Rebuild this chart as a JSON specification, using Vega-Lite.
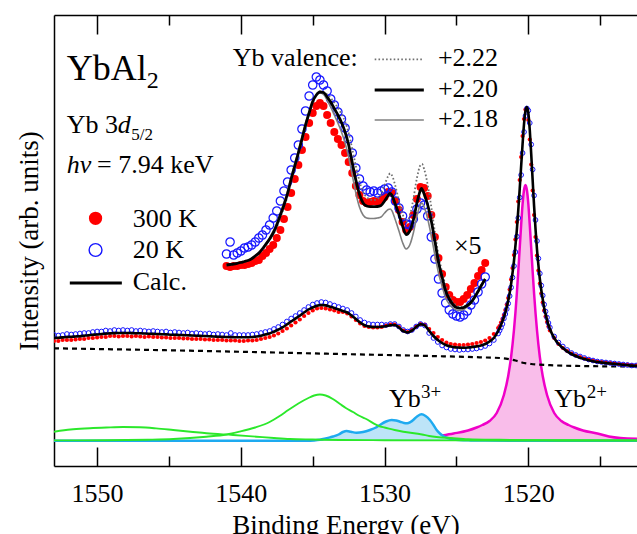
{
"$schema": "https://vega.github.io/schema/vega-lite/v6.json",
"width": 583, "height": 451,
"autosize": {"type": "none"},
"padding": {"left": 54, "top": 15, "right": 0, "bottom": 68},
"background": "white",
"config": {"view": {"stroke": null}, "font": "'Liberation Serif', 'Times New Roman', 'DejaVu Serif', serif"},
"datasets": {
"calc": [{"E":1553.0,"I":103},{"E":1552.7,"I":103.3},{"E":1552.4,"I":103.6},{"E":1552.1,"I":104},{"E":1551.8,"I":104.2},{"E":1551.5,"I":104.5},{"E":1551.2,"I":104.8},{"E":1550.9,"I":105.3},{"E":1550.6,"I":105.8},{"E":1550.3,"I":106.2},{"E":1550.0,"I":106.5},{"E":1549.7,"I":107},{"E":1549.4,"I":107.4},{"E":1549.1,"I":107.6},{"E":1548.8,"I":107.9},{"E":1548.5,"I":108},{"E":1548.2,"I":108},{"E":1547.9,"I":108},{"E":1547.6,"I":107.9},{"E":1547.3,"I":107.8},{"E":1547.0,"I":107.7},{"E":1546.7,"I":107.5},{"E":1546.4,"I":107.3},{"E":1546.1,"I":107.1},{"E":1545.8,"I":107},{"E":1545.5,"I":106.8},{"E":1545.2,"I":106.6},{"E":1544.9,"I":106.3},{"E":1544.6,"I":106.2},{"E":1544.3,"I":106},{"E":1544.0,"I":105.9},{"E":1543.7,"I":105.7},{"E":1543.4,"I":105.5},{"E":1543.1,"I":105.3},{"E":1542.8,"I":105.1},{"E":1542.5,"I":105},{"E":1542.2,"I":104.8},{"E":1541.9,"I":104.5},{"E":1541.6,"I":104.3},{"E":1541.3,"I":104.1},{"E":1541.0,"I":104},{"E":1540.7,"I":103.9},{"E":1540.4,"I":103.8},{"E":1540.1,"I":103.7},{"E":1539.8,"I":103.7},{"E":1539.5,"I":103.8},{"E":1539.2,"I":104},{"E":1538.9,"I":104.5},{"E":1538.6,"I":105.3},{"E":1538.3,"I":106.5},{"E":1538.0,"I":107.5},{"E":1537.7,"I":109.3},{"E":1537.4,"I":111.3},{"E":1537.1,"I":113.7},{"E":1536.8,"I":116.5},{"E":1536.5,"I":119.5},{"E":1536.2,"I":122.4},{"E":1535.9,"I":125.3},{"E":1535.6,"I":128.5},{"E":1535.3,"I":131.5},{"E":1535.0,"I":133.5},{"E":1534.7,"I":135.3},{"E":1534.4,"I":136},{"E":1534.1,"I":135.6},{"E":1533.8,"I":134.3},{"E":1533.5,"I":133},{"E":1533.2,"I":131.5},{"E":1532.9,"I":130},{"E":1532.6,"I":128.5},{"E":1532.3,"I":125.5},{"E":1532.0,"I":122},{"E":1531.7,"I":118.5},{"E":1531.4,"I":115.8},{"E":1531.1,"I":114.5},{"E":1530.8,"I":114},{"E":1530.5,"I":114},{"E":1530.2,"I":114.2},{"E":1529.9,"I":114.8},{"E":1529.6,"I":115.8},{"E":1529.3,"I":116},{"E":1529.0,"I":113.5},{"E":1528.7,"I":109.8},{"E":1528.4,"I":108.5},{"E":1528.1,"I":110.3},{"E":1527.8,"I":114},{"E":1527.5,"I":116.8},{"E":1527.2,"I":115.5},{"E":1526.9,"I":110},{"E":1526.6,"I":105},{"E":1526.3,"I":101},{"E":1526.0,"I":98},{"E":1525.7,"I":95.7},{"E":1525.4,"I":94.4},{"E":1525.1,"I":93.6},{"E":1524.8,"I":93.4},{"E":1524.5,"I":93.3},{"E":1524.2,"I":93.5},{"E":1523.9,"I":94},{"E":1523.6,"I":94.6},{"E":1523.3,"I":95.5},{"E":1523.0,"I":97},{"E":1522.7,"I":99.5},{"E":1522.4,"I":103},{"E":1522.1,"I":110},{"E":1522.0,"I":113},{"E":1521.9,"I":116},{"E":1521.8,"I":120},{"E":1521.7,"I":124},{"E":1521.6,"I":128.5},{"E":1521.5,"I":134},{"E":1521.4,"I":140.5},{"E":1521.3,"I":148},{"E":1521.2,"I":157},{"E":1521.1,"I":168},{"E":1521.0,"I":180},{"E":1520.9,"I":195},{"E":1520.8,"I":211},{"E":1520.7,"I":231},{"E":1520.6,"I":252},{"E":1520.5,"I":275},{"E":1520.4,"I":297},{"E":1520.3,"I":317},{"E":1520.2,"I":330},{"E":1520.1,"I":334},{"E":1520.0,"I":328},{"E":1519.9,"I":311},{"E":1519.8,"I":287},{"E":1519.7,"I":261},{"E":1519.6,"I":235},{"E":1519.5,"I":212},{"E":1519.4,"I":192},{"E":1519.3,"I":176},{"E":1519.2,"I":162},{"E":1519.1,"I":151},{"E":1519.0,"I":142},{"E":1518.9,"I":133},{"E":1518.8,"I":127},{"E":1518.7,"I":121},{"E":1518.6,"I":116},{"E":1518.5,"I":112},{"E":1518.2,"I":103},{"E":1517.9,"I":97},{"E":1517.6,"I":93},{"E":1517.3,"I":89.5},{"E":1517.0,"I":87},{"E":1516.7,"I":85},{"E":1516.4,"I":83.3},{"E":1516.1,"I":82},{"E":1515.8,"I":80.8},{"E":1515.5,"I":79.8},{"E":1515.2,"I":79},{"E":1514.9,"I":78.4},{"E":1514.6,"I":77.9},{"E":1514.3,"I":77.5},{"E":1514.0,"I":77.1},{"E":1513.7,"I":76.7},{"E":1513.4,"I":76.2},{"E":1513.1,"I":75.8},{"E":1512.8,"I":75.4},{"E":1512.5,"I":75.1},{"E":1512.2,"I":74.9}],
"red": [{"E":1553.0,"I":100},{"E":1552.7,"I":100},{"E":1552.4,"I":101},{"E":1552.1,"I":101},{"E":1551.8,"I":101},{"E":1551.5,"I":101.5},{"E":1551.2,"I":102},{"E":1550.9,"I":102},{"E":1550.6,"I":103},{"E":1550.3,"I":103},{"E":1550.0,"I":103.5},{"E":1549.7,"I":104},{"E":1549.4,"I":104},{"E":1549.1,"I":105},{"E":1548.8,"I":105},{"E":1548.5,"I":104.5},{"E":1548.2,"I":105},{"E":1547.9,"I":105},{"E":1547.6,"I":104.5},{"E":1547.3,"I":105},{"E":1547.0,"I":104.5},{"E":1546.7,"I":104},{"E":1546.4,"I":104.5},{"E":1546.1,"I":104},{"E":1545.8,"I":104},{"E":1545.5,"I":103.5},{"E":1545.2,"I":103.5},{"E":1544.9,"I":103},{"E":1544.6,"I":103},{"E":1544.3,"I":103},{"E":1544.0,"I":102.5},{"E":1543.7,"I":102.5},{"E":1543.4,"I":102},{"E":1543.1,"I":102},{"E":1542.8,"I":102},{"E":1542.5,"I":101.5},{"E":1542.2,"I":101.5},{"E":1541.9,"I":101},{"E":1541.6,"I":101},{"E":1541.3,"I":101},{"E":1541.0,"I":100.5},{"E":1540.7,"I":100.5},{"E":1540.4,"I":100.5},{"E":1540.1,"I":100},{"E":1539.8,"I":100},{"E":1539.5,"I":100.5},{"E":1539.2,"I":100.5},{"E":1538.9,"I":101},{"E":1538.6,"I":102},{"E":1538.3,"I":103},{"E":1538.0,"I":104},{"E":1537.7,"I":105.5},{"E":1537.4,"I":107.5},{"E":1537.1,"I":110},{"E":1536.8,"I":112.5},{"E":1536.5,"I":115.5},{"E":1536.2,"I":118.5},{"E":1535.9,"I":121.5},{"E":1535.6,"I":125},{"E":1535.3,"I":128},{"E":1535.0,"I":130.5},{"E":1534.7,"I":132.5},{"E":1534.4,"I":133},{"E":1534.1,"I":132.5},{"E":1533.8,"I":131.5},{"E":1533.5,"I":130.5},{"E":1533.2,"I":129},{"E":1532.9,"I":129},{"E":1532.6,"I":127.5},{"E":1532.3,"I":124.5},{"E":1532.0,"I":121},{"E":1531.7,"I":117.5},{"E":1531.4,"I":115},{"E":1531.1,"I":114},{"E":1530.8,"I":113.5},{"E":1530.5,"I":113.5},{"E":1530.2,"I":114},{"E":1529.9,"I":115.5},{"E":1529.6,"I":116.5},{"E":1529.3,"I":116.5},{"E":1529.0,"I":114},{"E":1528.7,"I":110.5},{"E":1528.4,"I":109},{"E":1528.1,"I":111},{"E":1527.8,"I":114.5},{"E":1527.5,"I":117},{"E":1527.2,"I":116.5},{"E":1526.9,"I":112},{"E":1526.6,"I":108},{"E":1526.3,"I":104},{"E":1526.0,"I":101},{"E":1525.7,"I":98.5},{"E":1525.4,"I":97},{"E":1525.1,"I":96.5},{"E":1524.8,"I":96},{"E":1524.5,"I":96},{"E":1524.2,"I":96.5},{"E":1523.9,"I":97},{"E":1523.6,"I":98},{"E":1523.3,"I":99},{"E":1523.0,"I":100.5},{"E":1522.7,"I":103},{"E":1522.4,"I":107},{"E":1522.1,"I":113},{"E":1522.0,"I":115},{"E":1521.9,"I":118.5},{"E":1521.8,"I":122},{"E":1521.7,"I":126},{"E":1521.6,"I":131},{"E":1521.5,"I":136.5},{"E":1521.4,"I":143},{"E":1521.3,"I":151.5},{"E":1521.2,"I":161.5},{"E":1521.1,"I":173},{"E":1521.0,"I":186},{"E":1520.9,"I":201.5},{"E":1520.8,"I":219},{"E":1520.7,"I":239.5},{"E":1520.6,"I":261},{"E":1520.5,"I":284},{"E":1520.4,"I":305},{"E":1520.3,"I":322},{"E":1520.2,"I":331.5},{"E":1520.1,"I":331.5},{"E":1520.0,"I":321},{"E":1519.9,"I":301.5},{"E":1519.8,"I":276.5},{"E":1519.7,"I":250.5},{"E":1519.6,"I":226},{"E":1519.5,"I":204},{"E":1519.4,"I":185.5},{"E":1519.3,"I":170.5},{"E":1519.2,"I":157.5},{"E":1519.1,"I":147.5},{"E":1519.0,"I":138.5},{"E":1518.9,"I":130.5},{"E":1518.8,"I":124.5},{"E":1518.7,"I":119},{"E":1518.6,"I":114.5},{"E":1518.5,"I":110.5},{"E":1518.2,"I":103},{"E":1517.9,"I":97},{"E":1517.6,"I":93},{"E":1517.3,"I":90},{"E":1517.0,"I":87.5},{"E":1516.7,"I":85.5},{"E":1516.4,"I":84},{"E":1516.1,"I":82.5},{"E":1515.8,"I":81.5},{"E":1515.5,"I":80.5},{"E":1515.2,"I":79.5},{"E":1514.9,"I":79},{"E":1514.6,"I":78.5},{"E":1514.3,"I":78},{"E":1514.0,"I":77.5},{"E":1513.7,"I":77},{"E":1513.4,"I":76.5},{"E":1513.1,"I":76.5},{"E":1512.8,"I":76},{"E":1512.5,"I":75.5}],
"blue": [{"E":1553.0,"I":106},{"E":1552.7,"I":105.5},{"E":1552.4,"I":106},{"E":1552.1,"I":107},{"E":1551.8,"I":106.5},{"E":1551.5,"I":107},{"E":1551.2,"I":107.5},{"E":1550.9,"I":108},{"E":1550.6,"I":108},{"E":1550.3,"I":109},{"E":1550.0,"I":109.5},{"E":1549.7,"I":109.5},{"E":1549.4,"I":110.5},{"E":1549.1,"I":110},{"E":1548.8,"I":111},{"E":1548.5,"I":110.5},{"E":1548.2,"I":111},{"E":1547.9,"I":110.5},{"E":1547.6,"I":111},{"E":1547.3,"I":110},{"E":1547.0,"I":110.5},{"E":1546.7,"I":110},{"E":1546.4,"I":109.5},{"E":1546.1,"I":110},{"E":1545.8,"I":109.5},{"E":1545.5,"I":109},{"E":1545.2,"I":109.5},{"E":1544.9,"I":108.5},{"E":1544.6,"I":109},{"E":1544.3,"I":108.5},{"E":1544.0,"I":108},{"E":1543.7,"I":108.5},{"E":1543.4,"I":107.5},{"E":1543.1,"I":108},{"E":1542.8,"I":107.5},{"E":1542.5,"I":107},{"E":1542.2,"I":107.5},{"E":1541.9,"I":106.5},{"E":1541.6,"I":107},{"E":1541.3,"I":106.5},{"E":1541.0,"I":106},{"E":1540.7,"I":108},{"E":1540.4,"I":106},{"E":1540.1,"I":106},{"E":1539.8,"I":106},{"E":1539.5,"I":106},{"E":1539.2,"I":106.5},{"E":1538.9,"I":107},{"E":1538.6,"I":108},{"E":1538.3,"I":109},{"E":1538.0,"I":110},{"E":1537.7,"I":112},{"E":1537.4,"I":114},{"E":1537.1,"I":116.5},{"E":1536.8,"I":119.5},{"E":1536.5,"I":122.5},{"E":1536.2,"I":125},{"E":1535.9,"I":128},{"E":1535.6,"I":131},{"E":1535.3,"I":134},{"E":1535.0,"I":136.5},{"E":1534.7,"I":138},{"E":1534.4,"I":139},{"E":1534.1,"I":138.5},{"E":1533.8,"I":137},{"E":1533.5,"I":135.5},{"E":1533.2,"I":134},{"E":1532.9,"I":132.5},{"E":1532.6,"I":131},{"E":1532.3,"I":128},{"E":1532.0,"I":124.5},{"E":1531.7,"I":121},{"E":1531.4,"I":118.5},{"E":1531.1,"I":117},{"E":1530.8,"I":116.5},{"E":1530.5,"I":116.5},{"E":1530.2,"I":116.5},{"E":1529.9,"I":116},{"E":1529.6,"I":117},{"E":1529.3,"I":117},{"E":1529.0,"I":114.5},{"E":1528.7,"I":111},{"E":1528.4,"I":109.5},{"E":1528.1,"I":111},{"E":1527.8,"I":114.5},{"E":1527.5,"I":117},{"E":1527.2,"I":115.5},{"E":1526.9,"I":108},{"E":1526.6,"I":103},{"E":1526.3,"I":99},{"E":1526.0,"I":95.5},{"E":1525.7,"I":93.5},{"E":1525.4,"I":92},{"E":1525.1,"I":91.5},{"E":1524.8,"I":91},{"E":1524.5,"I":91.5},{"E":1524.2,"I":91.5},{"E":1523.9,"I":92},{"E":1523.6,"I":92.5},{"E":1523.3,"I":93.5},{"E":1523.0,"I":95},{"E":1522.7,"I":97.5},{"E":1522.4,"I":101},{"E":1522.1,"I":107.5},{"E":1522.0,"I":110.5},{"E":1521.9,"I":113.5},{"E":1521.8,"I":117},{"E":1521.7,"I":122.5},{"E":1521.6,"I":127},{"E":1521.5,"I":132},{"E":1521.4,"I":137.5},{"E":1521.3,"I":145},{"E":1521.2,"I":153.5},{"E":1521.1,"I":163.5},{"E":1521.0,"I":175},{"E":1520.9,"I":189},{"E":1520.8,"I":204.5},{"E":1520.7,"I":223},{"E":1520.6,"I":243.5},{"E":1520.5,"I":266},{"E":1520.4,"I":288},{"E":1520.3,"I":309},{"E":1520.2,"I":325},{"E":1520.1,"I":332.5},{"E":1520.0,"I":330.5},{"E":1519.9,"I":318},{"E":1519.8,"I":296.5},{"E":1519.7,"I":271.5},{"E":1519.6,"I":245.5},{"E":1519.5,"I":221},{"E":1519.4,"I":200},{"E":1519.3,"I":182.5},{"E":1519.2,"I":167.5},{"E":1519.1,"I":155.5},{"E":1519.0,"I":145.5},{"E":1518.9,"I":136.5},{"E":1518.8,"I":129.5},{"E":1518.7,"I":123.5},{"E":1518.6,"I":118},{"E":1518.5,"I":113.5},{"E":1518.2,"I":104.5},{"E":1517.9,"I":98.5},{"E":1517.6,"I":94.5},{"E":1517.3,"I":91},{"E":1517.0,"I":88},{"E":1516.7,"I":86},{"E":1516.4,"I":84.5},{"E":1516.1,"I":83},{"E":1515.8,"I":81.5},{"E":1515.5,"I":80.5},{"E":1515.2,"I":79.5},{"E":1514.9,"I":79},{"E":1514.6,"I":78.5},{"E":1514.3,"I":78},{"E":1514.0,"I":77.5},{"E":1513.7,"I":77},{"E":1513.4,"I":76.5},{"E":1513.1,"I":76},{"E":1512.8,"I":75.5},{"E":1512.5,"I":75.5}],
"bg": [{"E":1553.0,"I":92.7},{"E":1543.55,"I":90.3},{"E":1533.1,"I":87},{"E":1526.85,"I":85},{"E":1523.4,"I":83.7},{"E":1521.8,"I":82.8},{"E":1521.3,"I":81.7},{"E":1520.9,"I":80.5},{"E":1520.6,"I":79.3},{"E":1520.4,"I":78.3},{"E":1520.1,"I":77.5},{"E":1519.8,"I":77},{"E":1519.4,"I":76.5},{"E":1518.5,"I":75.8},{"E":1516.4,"I":75},{"E":1512.2,"I":74.5}],
"green": [{"c":"a","E":1553.0,"I":0.6},{"c":"a","E":1549.4,"I":0.8},{"c":"a","E":1546.5,"I":1.3},{"c":"a","E":1544.7,"I":2},{"c":"a","E":1542.4,"I":4.3},{"c":"a","E":1541.0,"I":6.5},{"c":"a","E":1540.1,"I":9.3},{"c":"a","E":1539.0,"I":13.5},{"c":"a","E":1538.0,"I":19},{"c":"a","E":1537.3,"I":25},{"c":"a","E":1536.7,"I":31},{"c":"a","E":1536.0,"I":37.5},{"c":"a","E":1535.3,"I":43},{"c":"a","E":1534.9,"I":45.5},{"c":"a","E":1534.5,"I":46.5},{"c":"a","E":1534.1,"I":45.5},{"c":"a","E":1533.6,"I":42},{"c":"a","E":1533.1,"I":37},{"c":"a","E":1532.7,"I":33},{"c":"a","E":1532.2,"I":29},{"c":"a","E":1531.8,"I":25.5},{"c":"a","E":1531.35,"I":22.5},{"c":"a","E":1530.3,"I":14.5},{"c":"a","E":1530.0,"I":13.5},{"c":"a","E":1529.3,"I":11},{"c":"a","E":1528.7,"I":9.3},{"c":"a","E":1527.4,"I":6.5},{"c":"a","E":1526.9,"I":5},{"c":"a","E":1525.2,"I":2.8},{"c":"a","E":1524.2,"I":1.8},{"c":"a","E":1522.0,"I":1.2},{"c":"a","E":1518.0,"I":0.8},{"c":"a","E":1512.2,"I":0.6},{"c":"b","E":1553.0,"I":9.3},{"c":"b","E":1552.3,"I":10.8},{"c":"b","E":1551.67,"I":11.7},{"c":"b","E":1550.5,"I":12.8},{"c":"b","E":1549.35,"I":13.5},{"c":"b","E":1548.2,"I":14},{"c":"b","E":1547.03,"I":13.7},{"c":"b","E":1545.9,"I":12.6},{"c":"b","E":1544.71,"I":11},{"c":"b","E":1543.5,"I":9.3},{"c":"b","E":1542.39,"I":7.7},{"c":"b","E":1540.54,"I":6},{"c":"b","E":1538.91,"I":4.3},{"c":"b","E":1537.7,"I":3},{"c":"b","E":1536.59,"I":2},{"c":"b","E":1535.0,"I":1.5},{"c":"b","E":1533.1,"I":1},{"c":"b","E":1530.0,"I":0.8},{"c":"b","E":1525.0,"I":0.6},{"c":"b","E":1518.0,"I":0.5},{"c":"b","E":1512.2,"I":0.5}],
"yb3": [{"E":1553.0,"I":0.2},{"E":1545.0,"I":0.2},{"E":1538.0,"I":0.2},{"E":1535.5,"I":0.3},{"E":1534.9,"I":0.6},{"E":1534.5,"I":1.2},{"E":1534.1,"I":2.5},{"E":1533.8,"I":3.6},{"E":1533.58,"I":4.5},{"E":1533.2,"I":6.5},{"E":1532.9,"I":9},{"E":1532.64,"I":10},{"E":1532.35,"I":9.2},{"E":1531.95,"I":8.3},{"E":1531.5,"I":9},{"E":1531.02,"I":11},{"E":1530.6,"I":13.5},{"E":1530.33,"I":16},{"E":1529.9,"I":19.5},{"E":1529.51,"I":21},{"E":1529.2,"I":20.5},{"E":1528.93,"I":19.3},{"E":1528.65,"I":18},{"E":1528.43,"I":17.7},{"E":1528.2,"I":19},{"E":1528.01,"I":21},{"E":1527.7,"I":25},{"E":1527.43,"I":26.7},{"E":1527.15,"I":25},{"E":1526.85,"I":21},{"E":1526.6,"I":16},{"E":1526.38,"I":11},{"E":1526.15,"I":7.5},{"E":1525.92,"I":5},{"E":1525.6,"I":3},{"E":1525.23,"I":1.7},{"E":1524.8,"I":1},{"E":1524.0,"I":0.6},{"E":1523.0,"I":0.4},{"E":1520.0,"I":0.3},{"E":1512.2,"I":0.3}],
"sticks": [{"E":1532.69,"h":6},{"E":1532.46,"h":4.3},{"E":1531.53,"h":2.7},{"E":1530.67,"h":7},{"E":1529.86,"h":4.3},{"E":1529.7,"h":6},{"E":1529.47,"h":13.7},{"E":1528.93,"h":7.7},{"E":1527.47,"h":15.3},{"E":1526.97,"h":12}],
"yb2": [{"E":1526.0,"I":5.5},{"E":1525.2,"I":7.5},{"E":1524.2,"I":10.5},{"E":1523.6,"I":13.5},{"E":1523.2,"I":16},{"E":1522.7,"I":20},{"E":1522.2,"I":28},{"E":1521.7,"I":46},{"E":1521.4,"I":65},{"E":1521.2,"I":84},{"E":1521.0,"I":111},{"E":1520.9,"I":128},{"E":1520.8,"I":147.5},{"E":1520.7,"I":169.5},{"E":1520.6,"I":193},{"E":1520.5,"I":216},{"E":1520.4,"I":237},{"E":1520.3,"I":251},{"E":1520.2,"I":256},{"E":1520.1,"I":251},{"E":1520.0,"I":237},{"E":1519.9,"I":216},{"E":1519.8,"I":193},{"E":1519.7,"I":169.5},{"E":1519.6,"I":147.5},{"E":1519.5,"I":128},{"E":1519.4,"I":111},{"E":1519.2,"I":84},{"E":1519.0,"I":65},{"E":1518.7,"I":46},{"E":1518.2,"I":28},{"E":1517.7,"I":20},{"E":1517.2,"I":16},{"E":1516.8,"I":13.5},{"E":1516.2,"I":10.5},{"E":1515.2,"I":7.5},{"E":1514.4,"I":4.5},{"E":1513.6,"I":3},{"E":1512.2,"I":2.2}],
"calc5": [{"E":1541.0,"I":176},{"E":1540.75,"I":176.5},{"E":1540.5,"I":177},{"E":1540.25,"I":177.7},{"E":1540.0,"I":178.5},{"E":1539.75,"I":179.5},{"E":1539.5,"I":180.5},{"E":1539.25,"I":182.3},{"E":1539.0,"I":185},{"E":1538.75,"I":187.8},{"E":1538.5,"I":192},{"E":1538.25,"I":197},{"E":1538.0,"I":202},{"E":1537.75,"I":208},{"E":1537.5,"I":216},{"E":1537.25,"I":226},{"E":1537.0,"I":236},{"E":1536.75,"I":247.5},{"E":1536.5,"I":262},{"E":1536.25,"I":275},{"E":1536.0,"I":288},{"E":1535.75,"I":302},{"E":1535.5,"I":316},{"E":1535.25,"I":328},{"E":1535.0,"I":339.5},{"E":1534.75,"I":346},{"E":1534.5,"I":349},{"E":1534.25,"I":348.5},{"E":1534.0,"I":344},{"E":1533.75,"I":339},{"E":1533.5,"I":332.5},{"E":1533.25,"I":326},{"E":1533.0,"I":318.5},{"E":1532.75,"I":309},{"E":1532.5,"I":296},{"E":1532.25,"I":278.5},{"E":1532.0,"I":261},{"E":1531.75,"I":247},{"E":1531.5,"I":238},{"E":1531.25,"I":235},{"E":1531.0,"I":234.3},{"E":1530.75,"I":234.3},{"E":1530.5,"I":234.5},{"E":1530.25,"I":235.5},{"E":1530.0,"I":240},{"E":1529.75,"I":245.5},{"E":1529.63,"I":247.7},{"E":1529.5,"I":246},{"E":1529.25,"I":236.5},{"E":1529.0,"I":226.5},{"E":1528.75,"I":215},{"E":1528.5,"I":206.5},{"E":1528.25,"I":210},{"E":1528.0,"I":221},{"E":1527.75,"I":238},{"E":1527.5,"I":251},{"E":1527.43,"I":252.7},{"E":1527.25,"I":247},{"E":1527.0,"I":236},{"E":1526.75,"I":220},{"E":1526.5,"I":200},{"E":1526.25,"I":179},{"E":1526.0,"I":164},{"E":1525.75,"I":150},{"E":1525.5,"I":142},{"E":1525.25,"I":136.5},{"E":1525.0,"I":133.5},{"E":1524.75,"I":132.8},{"E":1524.5,"I":133.5},{"E":1524.25,"I":135.5},{"E":1524.0,"I":138.5},{"E":1523.75,"I":143.5},{"E":1523.5,"I":149.5},{"E":1523.25,"I":156},{"E":1523.0,"I":162}],
"v222": [{"E":1541.0,"I":176},{"E":1540.5,"I":177},{"E":1540.0,"I":178.5},{"E":1539.5,"I":180.5},{"E":1539.0,"I":185},{"E":1538.5,"I":191.5},{"E":1538.0,"I":201},{"E":1537.5,"I":214},{"E":1537.25,"I":224},{"E":1537.0,"I":233.5},{"E":1536.75,"I":245},{"E":1536.5,"I":259},{"E":1536.25,"I":272},{"E":1536.0,"I":285},{"E":1535.75,"I":299},{"E":1535.5,"I":313},{"E":1535.25,"I":326},{"E":1535.0,"I":338},{"E":1534.75,"I":345.5},{"E":1534.5,"I":349.5},{"E":1534.25,"I":349},{"E":1534.0,"I":346.5},{"E":1533.75,"I":343},{"E":1533.5,"I":338.5},{"E":1533.25,"I":333},{"E":1533.0,"I":327},{"E":1532.75,"I":319.5},{"E":1532.5,"I":308},{"E":1532.25,"I":292},{"E":1532.0,"I":275},{"E":1531.75,"I":260},{"E":1531.5,"I":249},{"E":1531.25,"I":244},{"E":1531.0,"I":241.5},{"E":1530.75,"I":241},{"E":1530.5,"I":242},{"E":1530.25,"I":247},{"E":1530.0,"I":256},{"E":1529.75,"I":265},{"E":1529.6,"I":267.7},{"E":1529.5,"I":266},{"E":1529.25,"I":255},{"E":1529.0,"I":240},{"E":1528.75,"I":227},{"E":1528.5,"I":219.5},{"E":1528.25,"I":225},{"E":1528.0,"I":242},{"E":1527.75,"I":263},{"E":1527.5,"I":276},{"E":1527.4,"I":277},{"E":1527.25,"I":272},{"E":1527.0,"I":256},{"E":1526.75,"I":234},{"E":1526.5,"I":209},{"E":1526.25,"I":186},{"E":1526.0,"I":169},{"E":1525.75,"I":155},{"E":1525.5,"I":145.5},{"E":1525.25,"I":139},{"E":1525.0,"I":135.5},{"E":1524.75,"I":134},{"E":1524.5,"I":134.5},{"E":1524.25,"I":136},{"E":1524.0,"I":139},{"E":1523.75,"I":144},{"E":1523.5,"I":150},{"E":1523.25,"I":156.5},{"E":1523.0,"I":162}],
"v218": [{"E":1541.0,"I":176},{"E":1540.5,"I":177},{"E":1540.0,"I":178.5},{"E":1539.5,"I":180.5},{"E":1539.0,"I":185.5},{"E":1538.5,"I":193},{"E":1538.0,"I":203},{"E":1537.5,"I":218},{"E":1537.25,"I":228},{"E":1537.0,"I":238.5},{"E":1536.75,"I":250},{"E":1536.5,"I":264.5},{"E":1536.25,"I":277.5},{"E":1536.0,"I":290},{"E":1535.75,"I":304},{"E":1535.5,"I":318},{"E":1535.25,"I":329.5},{"E":1535.0,"I":340},{"E":1534.75,"I":346},{"E":1534.5,"I":348},{"E":1534.25,"I":346.5},{"E":1534.0,"I":341},{"E":1533.75,"I":334},{"E":1533.5,"I":326},{"E":1533.25,"I":318},{"E":1533.0,"I":309},{"E":1532.75,"I":298},{"E":1532.5,"I":284},{"E":1532.25,"I":266},{"E":1532.0,"I":248},{"E":1531.75,"I":234},{"E":1531.5,"I":226},{"E":1531.25,"I":223},{"E":1531.0,"I":222.5},{"E":1530.75,"I":222.5},{"E":1530.5,"I":223},{"E":1530.25,"I":224},{"E":1530.0,"I":228},{"E":1529.75,"I":231.5},{"E":1529.6,"I":232},{"E":1529.5,"I":230.5},{"E":1529.25,"I":221},{"E":1529.0,"I":210},{"E":1528.75,"I":198.5},{"E":1528.5,"I":192},{"E":1528.25,"I":196},{"E":1528.0,"I":208},{"E":1527.75,"I":225},{"E":1527.5,"I":236.5},{"E":1527.4,"I":238},{"E":1527.25,"I":234},{"E":1527.0,"I":222},{"E":1526.75,"I":205},{"E":1526.5,"I":186},{"E":1526.25,"I":168},{"E":1526.0,"I":155},{"E":1525.75,"I":143},{"E":1525.5,"I":137},{"E":1525.25,"I":133},{"E":1525.0,"I":131},{"E":1524.75,"I":130.5},{"E":1524.5,"I":131.5},{"E":1524.25,"I":134},{"E":1524.0,"I":137.5},{"E":1523.75,"I":142.5},{"E":1523.5,"I":149},{"E":1523.25,"I":155.5},{"E":1523.0,"I":161.5}],
"red5": [{"E":1541.0,"I":175},{"E":1540.75,"I":174},{"E":1540.5,"I":175},{"E":1540.25,"I":175},{"E":1540.0,"I":176},{"E":1539.75,"I":176},{"E":1539.5,"I":177},{"E":1539.25,"I":178},{"E":1539.0,"I":180},{"E":1538.75,"I":181},{"E":1538.5,"I":185},{"E":1538.25,"I":188},{"E":1538.0,"I":192},{"E":1537.75,"I":196},{"E":1537.5,"I":203},{"E":1537.25,"I":211},{"E":1537.0,"I":222},{"E":1536.75,"I":234},{"E":1536.5,"I":248},{"E":1536.25,"I":262},{"E":1536.0,"I":276},{"E":1535.75,"I":291},{"E":1535.5,"I":304},{"E":1535.25,"I":318},{"E":1535.0,"I":328},{"E":1534.75,"I":335},{"E":1534.5,"I":338},{"E":1534.25,"I":335},{"E":1534.0,"I":326},{"E":1533.75,"I":318},{"E":1533.5,"I":309},{"E":1533.25,"I":302},{"E":1533.0,"I":296},{"E":1532.75,"I":288},{"E":1532.5,"I":279},{"E":1532.25,"I":268},{"E":1532.0,"I":255},{"E":1531.75,"I":246},{"E":1531.5,"I":240},{"E":1531.25,"I":238},{"E":1531.0,"I":239},{"E":1530.75,"I":240},{"E":1530.5,"I":239},{"E":1530.25,"I":241},{"E":1530.0,"I":244},{"E":1529.75,"I":249},{"E":1529.5,"I":248},{"E":1529.25,"I":240},{"E":1529.0,"I":231},{"E":1528.75,"I":219},{"E":1528.5,"I":211},{"E":1528.25,"I":214},{"E":1528.0,"I":226},{"E":1527.75,"I":242},{"E":1527.5,"I":254},{"E":1527.25,"I":253},{"E":1527.0,"I":245},{"E":1526.75,"I":226},{"E":1526.5,"I":204},{"E":1526.25,"I":183},{"E":1526.0,"I":167},{"E":1525.75,"I":154},{"E":1525.5,"I":146},{"E":1525.25,"I":141},{"E":1525.0,"I":139},{"E":1524.75,"I":139},{"E":1524.5,"I":142},{"E":1524.25,"I":146},{"E":1524.0,"I":152},{"E":1523.75,"I":158},{"E":1523.5,"I":165},{"E":1523.25,"I":171},{"E":1523.0,"I":178}],
"blue5": [{"E":1541.0,"I":187},{"E":1540.75,"I":199},{"E":1540.5,"I":186},{"E":1540.25,"I":188},{"E":1540.0,"I":190},{"E":1539.75,"I":193},{"E":1539.5,"I":194},{"E":1539.25,"I":196},{"E":1539.0,"I":199},{"E":1538.75,"I":203},{"E":1538.5,"I":206},{"E":1538.25,"I":211},{"E":1538.0,"I":216},{"E":1537.75,"I":223},{"E":1537.5,"I":230},{"E":1537.25,"I":240},{"E":1537.0,"I":250},{"E":1536.75,"I":259},{"E":1536.5,"I":271},{"E":1536.25,"I":283},{"E":1536.0,"I":296},{"E":1535.75,"I":312},{"E":1535.5,"I":330},{"E":1535.25,"I":345},{"E":1535.0,"I":356},{"E":1534.75,"I":364},{"E":1534.5,"I":361},{"E":1534.25,"I":356},{"E":1534.0,"I":350},{"E":1533.75,"I":342},{"E":1533.5,"I":336},{"E":1533.25,"I":329},{"E":1533.0,"I":322},{"E":1532.75,"I":313},{"E":1532.5,"I":302},{"E":1532.25,"I":288},{"E":1532.0,"I":273},{"E":1531.75,"I":262},{"E":1531.5,"I":255},{"E":1531.25,"I":251},{"E":1531.0,"I":249},{"E":1530.75,"I":250},{"E":1530.5,"I":248},{"E":1530.25,"I":250},{"E":1530.0,"I":252},{"E":1529.75,"I":253},{"E":1529.5,"I":249},{"E":1529.25,"I":240},{"E":1529.0,"I":233},{"E":1528.75,"I":225},{"E":1528.5,"I":217},{"E":1528.25,"I":216},{"E":1528.0,"I":222},{"E":1527.75,"I":232},{"E":1527.5,"I":238},{"E":1527.25,"I":236},{"E":1527.0,"I":225},{"E":1526.75,"I":204},{"E":1526.5,"I":182},{"E":1526.25,"I":162},{"E":1526.0,"I":148},{"E":1525.75,"I":138},{"E":1525.5,"I":131},{"E":1525.25,"I":127},{"E":1525.0,"I":125},{"E":1524.75,"I":124},{"E":1524.5,"I":126},{"E":1524.25,"I":130},{"E":1524.0,"I":136},{"E":1523.75,"I":141},{"E":1523.5,"I":149},{"E":1523.25,"I":157},{"E":1523.0,"I":164}],
"legRed": [{"E":1550.11,"I":222.7}],
"legBlue": [{"E":1550.11,"I":191}],
"legCalc": [{"E":1551.9,"I":158},{"E":1548.28,"I":158}],
"legV222": [{"E":1530.69,"I":381.7},{"E":1527.27,"I":381.7}],
"legV220": [{"E":1530.69,"I":351},{"E":1527.27,"I":351}],
"legV218": [{"E":1530.69,"I":321},{"E":1527.27,"I":321}],
"txtBig": [{"t":"YbAl","E":1552.11,"I":361}],
"txtBigSub": [{"t":"2","E":1546.54,"I":353}],
"txt": [{"t":"Yb 3","E":1552.11,"I":308},{"t":"= 7.94 keV","E":1550.0,"I":268},{"t":"300 K","E":1547.52,"I":214},{"t":"20 K","E":1547.52,"I":183},{"t":"Calc.","E":1547.52,"I":151},{"t":"Yb valence:","E":1540.56,"I":375},{"t":"+2.22","E":1526.29,"I":375},{"t":"+2.20","E":1526.29,"I":344.3},{"t":"+2.18","E":1526.29,"I":314.3},{"t":"×5","E":1525.18,"I":187},{"t":"Yb","E":1529.7,"I":33.7},{"t":"Yb","E":1518.2,"I":33.7}],
"txtItal": [{"t":"d","E":1548.56,"I":308},{"t":"hν","E":1552.11,"I":268}],
"txtSub": [{"t":"5/2","E":1547.62,"I":301}],
"txtSup": [{"t":"3+","E":1527.47,"I":43},{"t":"2+","E":1515.94,"I":43}]
},
"encoding": {
"x": {"field":"E","type":"quantitative","scale":{"domain":[1512.44,1553],"reverse":true,"nice":false,"zero":false},"axis":null},
"y": {"field":"I","type":"quantitative","scale":{"domain":[-25,426],"nice":false,"zero":false},"axis":null}
},
"layer": [
{"data":{"name":"yb2"},"mark":{"type":"area","color":"#f9bdea","clip":true,"interpolate":"monotone"},
 "encoding":{
  "x":{"field":"E","type":"quantitative","scale":{"domain":[1512.44,1553],"reverse":true,"nice":false,"zero":false},
   "axis":{"orient":"bottom","values":[1550,1540,1530,1520],"format":"d","tickSize":-19,"tickWidth":1.5,"tickColor":"black","domain":true,"domainColor":"black","domainWidth":1.5,"labelFont":"'Liberation Serif', 'Times New Roman', 'DejaVu Serif', serif","labelFontSize":26,"labelColor":"black","labelPadding":33,"labelFlush":false,"labelOverlap":false,"grid":false,"title":"Binding Energy (eV)","titleFont":"'Liberation Serif', 'Times New Roman', 'DejaVu Serif', serif","titleFontSize":27,"titleFontWeight":"normal","titleColor":"black","titlePadding":6}},
  "y":{"field":"I","type":"quantitative","scale":{"domain":[-25,426],"nice":false,"zero":false},
   "axis":{"orient":"left","domain":true,"domainColor":"black","domainWidth":1.5,"ticks":false,"labels":false,"grid":false,"title":"Intensity (arb. units)","titleFont":"'Liberation Serif', 'Times New Roman', 'DejaVu Serif', serif","titleFontSize":27,"titleFontWeight":"normal","titleColor":"black","titlePadding":11}},
  "y2":{"datum":0}}},
{"data":{"name":"yb3"},"mark":{"type":"area","color":"#bde4f8","clip":true,"interpolate":"monotone"},
 "encoding":{
  "x":{"field":"E","type":"quantitative","scale":{"domain":[1512.44,1553],"reverse":true,"nice":false,"zero":false},
   "axis":{"orient":"bottom","values":[1545,1535,1525,1515],"tickSize":-10,"tickWidth":1.5,"tickColor":"black","domain":false,"labels":false,"grid":false,"title":null}},
  "y2":{"datum":0}}},
{"data":{"name":"yb2"},"mark":{"type":"line","color":"#f000c8","strokeWidth":2.5,"clip":true,"interpolate":"monotone"},
 "encoding":{
  "x":{"field":"E","type":"quantitative","scale":{"domain":[1512.44,1553],"reverse":true,"nice":false,"zero":false},
   "axis":{"orient":"top","values":[1550,1540,1530,1520],"tickSize":-19,"tickWidth":1.5,"tickColor":"black","domain":true,"domainColor":"black","domainWidth":1.5,"labels":false,"grid":false,"title":null}}}},
{"data":{"name":"yb3"},"mark":{"type":"line","color":"#1eaaf0","strokeWidth":2.5,"clip":true,"interpolate":"monotone"},
 "encoding":{
  "x":{"field":"E","type":"quantitative","scale":{"domain":[1512.44,1553],"reverse":true,"nice":false,"zero":false},
   "axis":{"orient":"top","values":[1545,1535,1525,1515],"tickSize":-10,"tickWidth":1.5,"tickColor":"black","domain":false,"labels":false,"grid":false,"title":null}}}},
{"data":{"name":"green"},"mark":{"type":"line","color":"#2be82b","strokeWidth":1.9,"clip":true,"interpolate":"monotone"},"encoding":{"detail":{"field":"c"}}},
{"data":{"name":"sticks"},"mark":{"type":"rule","color":"black","strokeWidth":1.8,"clip":true},"encoding":{"y":{"datum":0},"y2":{"field":"h"}}},
{"data":{"name":"bg"},"mark":{"type":"line","color":"black","strokeWidth":2.2,"strokeDash":[5,4],"clip":true,"interpolate":"monotone"},"encoding":{}},
{"data":{"name":"red"},"mark":{"type":"point","filled":true,"color":"#ff0000","size":18,"opacity":1,"clip":true},"encoding":{}},
{"data":{"name":"blue"},"mark":{"type":"point","filled":false,"color":"#1515ff","size":22,"strokeWidth":1,"opacity":1,"clip":true},"encoding":{}},
{"data":{"name":"calc"},"mark":{"type":"line","color":"black","strokeWidth":2.6,"clip":true,"interpolate":"monotone"},"encoding":{}},
{"data":{"name":"red5"},"mark":{"type":"point","filled":true,"color":"#ff0000","size":64,"opacity":1,"clip":true},"encoding":{}},
{"data":{"name":"blue5"},"mark":{"type":"point","filled":false,"color":"#1515ff","size":70,"strokeWidth":1.2,"opacity":1,"clip":true},"encoding":{}},
{"data":{"name":"v218"},"mark":{"type":"line","color":"#808080","strokeWidth":1.6,"clip":true,"interpolate":"monotone"},"encoding":{}},
{"data":{"name":"v222"},"mark":{"type":"line","color":"#707070","strokeWidth":1.8,"strokeDash":[1.6,2.2],"clip":true,"interpolate":"monotone"},"encoding":{}},
{"data":{"name":"calc5"},"mark":{"type":"line","color":"black","strokeWidth":2.8,"clip":true,"interpolate":"monotone"},"encoding":{}},
{"data":{"name":"legRed"},"mark":{"type":"point","filled":true,"color":"#ff0000","size":177,"opacity":1},"encoding":{}},
{"data":{"name":"legBlue"},"mark":{"type":"point","filled":false,"color":"#1515ff","size":165,"strokeWidth":1.4,"opacity":1},"encoding":{}},
{"data":{"name":"legCalc"},"mark":{"type":"line","color":"black","strokeWidth":3},"encoding":{}},
{"data":{"name":"legV222"},"mark":{"type":"line","color":"#707070","strokeWidth":1.8,"strokeDash":[1.6,2.2]},"encoding":{}},
{"data":{"name":"legV220"},"mark":{"type":"line","color":"black","strokeWidth":3},"encoding":{}},
{"data":{"name":"legV218"},"mark":{"type":"line","color":"#808080","strokeWidth":1.6},"encoding":{}},
{"data":{"name":"txtBig"},"mark":{"type":"text","align":"left","baseline":"alphabetic","font":"'Liberation Serif', 'Times New Roman', 'DejaVu Serif', serif","fontSize":36,"color":"black"},"encoding":{"text":{"field":"t"}}},
{"data":{"name":"txtBigSub"},"mark":{"type":"text","align":"left","baseline":"alphabetic","font":"'Liberation Serif', 'Times New Roman', 'DejaVu Serif', serif","fontSize":24,"color":"black"},"encoding":{"text":{"field":"t"}}},
{"data":{"name":"txt"},"mark":{"type":"text","align":"left","baseline":"alphabetic","font":"'Liberation Serif', 'Times New Roman', 'DejaVu Serif', serif","fontSize":26,"color":"black"},"encoding":{"text":{"field":"t"}}},
{"data":{"name":"txtItal"},"mark":{"type":"text","align":"left","baseline":"alphabetic","font":"'Liberation Serif', 'Times New Roman', 'DejaVu Serif', serif","fontSize":26,"fontStyle":"italic","color":"black"},"encoding":{"text":{"field":"t"}}},
{"data":{"name":"txtSub"},"mark":{"type":"text","align":"left","baseline":"alphabetic","font":"'Liberation Serif', 'Times New Roman', 'DejaVu Serif', serif","fontSize":17,"color":"black"},"encoding":{"text":{"field":"t"}}},
{"data":{"name":"txtSup"},"mark":{"type":"text","align":"left","baseline":"alphabetic","font":"'Liberation Serif', 'Times New Roman', 'DejaVu Serif', serif","fontSize":19,"color":"black"},"encoding":{"text":{"field":"t"}}}
],
"resolve": {"axis": {"x":"independent","y":"independent"}}
}
